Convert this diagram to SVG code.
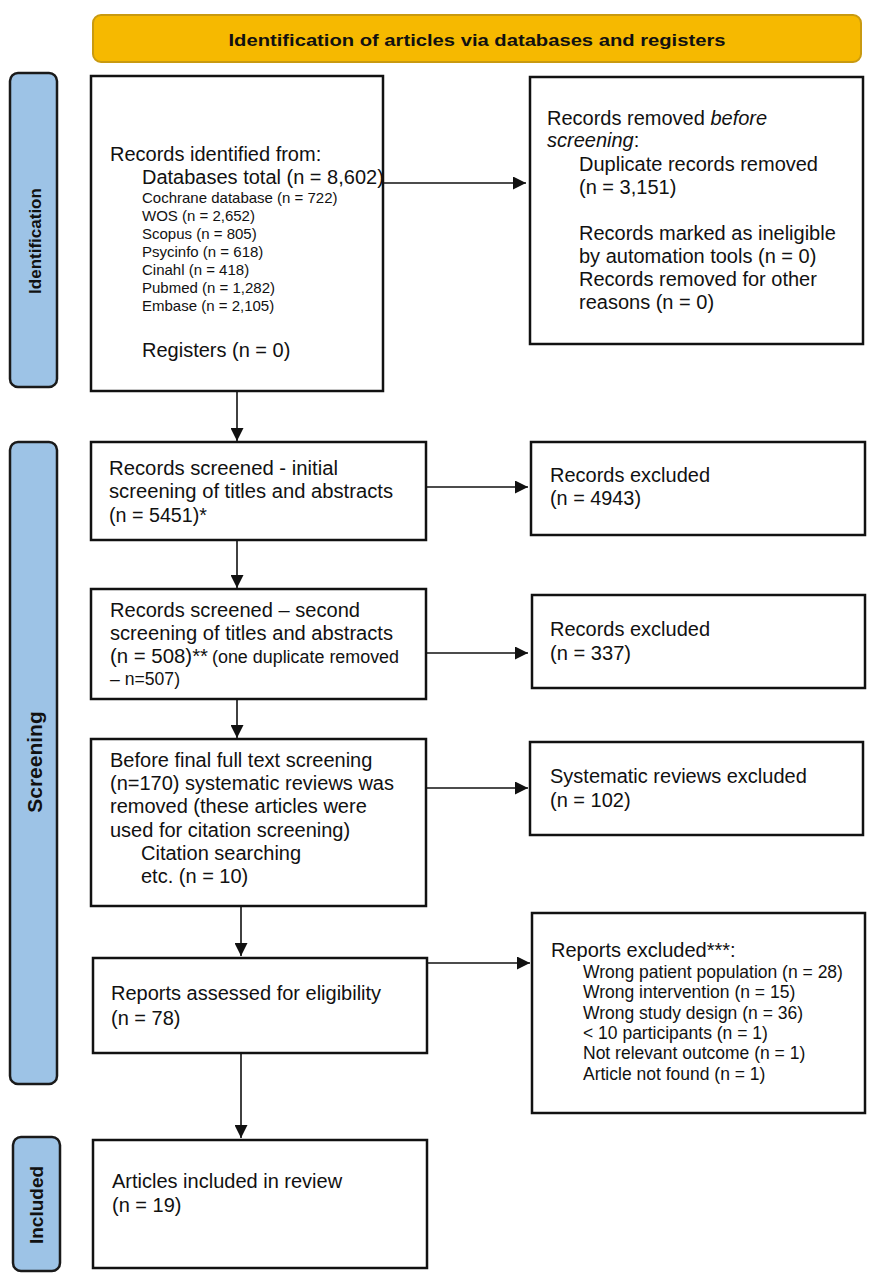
<svg xmlns="http://www.w3.org/2000/svg" width="874" height="1280" viewBox="0 0 874 1280">
<style>
.box{fill:#fff;stroke:#111;stroke-width:2.5}
.side{fill:#9dc3e6;stroke:#1a1a1a;stroke-width:2.5}
.t{font-family:"Liberation Sans",Arial,sans-serif;font-size:20px;fill:#111}
.n{font-family:"Liberation Sans",Arial,sans-serif;font-size:20px;fill:#111}
.s{font-family:"Liberation Sans",Arial,sans-serif;font-size:15px;fill:#111}
.m{font-family:"Liberation Sans",Arial,sans-serif;font-size:17.5px;fill:#111}
.lab{font-family:"Liberation Sans",Arial,sans-serif;font-weight:bold;fill:#111;text-anchor:middle}
.c{stroke:#111;stroke-width:1.6;fill:none}
</style>
<defs>
<marker id="ah2" viewBox="0 0 10 10" refX="10" refY="5" markerWidth="13" markerHeight="13" markerUnits="userSpaceOnUse" orient="auto">
<path d="M0,0 L10,5 L0,10 z" fill="#111"/>
</marker>
</defs>
<rect width="874" height="1280" fill="#fff"/>

<g id="header">
<rect x="93" y="15" width="768" height="47" rx="8" fill="#f6b900" stroke="#c99a10" stroke-width="2"/>
<text x="477" y="46" class="lab" font-size="17" textLength="497" lengthAdjust="spacingAndGlyphs">Identification of articles via databases and registers</text>
</g>

<g id="label-identification">
<rect class="side" x="10" y="73" width="47" height="314" rx="8"/>
<text class="lab" font-size="17" transform="translate(41,241) rotate(-90)">Identification</text>
</g>
<g id="label-screening">
<rect class="side" x="10" y="442" width="47" height="642" rx="8"/>
<text class="lab" font-size="21" transform="translate(42,762) rotate(-90)">Screening</text>
</g>
<g id="label-included">
<rect class="side" x="13" y="1137" width="47" height="134" rx="8"/>
<text class="lab" font-size="19" transform="translate(43,1205) rotate(-90)">Included</text>
</g>

<g id="connectors">
<line class="c" x1="383" y1="183" x2="526" y2="183" marker-end="url(#ah2)"/>
<line class="c" x1="237" y1="391" x2="237" y2="441" marker-end="url(#ah2)"/>
<line class="c" x1="426" y1="487" x2="528" y2="487" marker-end="url(#ah2)"/>
<line class="c" x1="237" y1="541" x2="237" y2="588" marker-end="url(#ah2)"/>
<line class="c" x1="426" y1="653" x2="528" y2="653" marker-end="url(#ah2)"/>
<line class="c" x1="237" y1="700" x2="237" y2="738" marker-end="url(#ah2)"/>
<line class="c" x1="426" y1="788" x2="528" y2="788" marker-end="url(#ah2)"/>
<line class="c" x1="241" y1="906" x2="241" y2="956" marker-end="url(#ah2)"/>
<line class="c" x1="428" y1="963" x2="530" y2="963" marker-end="url(#ah2)"/>
<line class="c" x1="241" y1="1054" x2="241" y2="1138" marker-end="url(#ah2)" stroke-width="2"/>
</g>

<g id="n-identified">
<rect class="box" x="91" y="76" width="292" height="315"/>
<text class="t" x="110" y="161">Records identified from:</text>
<text class="t" x="142" y="184">Databases total (n = 8,602)</text>
<text class="s" x="142" y="203">Cochrane database (n = 722)</text>
<text class="s" x="142" y="221">WOS (n = 2,652)</text>
<text class="s" x="142" y="239">Scopus (n = 805)</text>
<text class="s" x="142" y="257">Psycinfo (n = 618)</text>
<text class="s" x="142" y="275">Cinahl (n = 418)</text>
<text class="s" x="142" y="293">Pubmed (n = 1,282)</text>
<text class="s" x="142" y="311">Embase (n = 2,105)</text>
<text class="t" x="142" y="357">Registers (n = 0)</text>
</g>

<g id="n-removed">
<rect class="box" x="530" y="77" width="333" height="267"/>
<text class="t" x="547" y="125">Records removed <tspan font-style="italic">before</tspan></text>
<text class="t" x="547" y="147"><tspan font-style="italic">screening</tspan>:</text>
<text class="t" x="579" y="171">Duplicate records removed</text>
<text class="t" x="579" y="194">(n = 3,151)</text>
<text class="t" x="579" y="240">Records marked as ineligible</text>
<text class="t" x="579" y="263">by automation tools (n = 0)</text>
<text class="t" x="579" y="286">Records removed for other</text>
<text class="t" x="579" y="309">reasons (n = 0)</text>
</g>

<g id="n-screened1">
<rect class="box" x="91" y="442" width="335" height="98"/>
<text class="n" x="109" y="475" textLength="229" lengthAdjust="spacingAndGlyphs">Records screened - initial</text>
<text class="n" x="109" y="498" textLength="284" lengthAdjust="spacingAndGlyphs">screening of titles and abstracts</text>
<text class="n" x="109" y="522" textLength="98" lengthAdjust="spacingAndGlyphs">(n = 5451)*</text>
</g>

<g id="n-excluded1">
<rect class="box" x="531" y="442" width="334" height="93"/>
<text class="n" x="550" y="482" textLength="160" lengthAdjust="spacingAndGlyphs">Records excluded</text>
<text class="n" x="550" y="505" textLength="91" lengthAdjust="spacingAndGlyphs">(n = 4943)</text>
</g>

<g id="n-screened2">
<rect class="box" x="91" y="589" width="335" height="110"/>
<text class="n" x="110" y="617" textLength="250" lengthAdjust="spacingAndGlyphs">Records screened – second</text>
<text class="n" x="110" y="640" textLength="283" lengthAdjust="spacingAndGlyphs">screening of titles and abstracts</text>
<text class="n" x="110" y="663" textLength="98" lengthAdjust="spacingAndGlyphs">(n = 508)**</text>
<text class="m" x="212" y="663" font-size="16" textLength="187" lengthAdjust="spacingAndGlyphs">(one duplicate removed</text>
<text class="m" x="110" y="685" font-size="16" textLength="70" lengthAdjust="spacingAndGlyphs">– n=507)</text>
</g>

<g id="n-excluded2">
<rect class="box" x="532" y="595" width="333" height="93"/>
<text class="n" x="550" y="636" textLength="160" lengthAdjust="spacingAndGlyphs">Records excluded</text>
<text class="n" x="550" y="660" textLength="81" lengthAdjust="spacingAndGlyphs">(n = 337)</text>
</g>

<g id="n-before-final">
<rect class="box" x="91" y="739" width="335" height="167"/>
<text class="t" x="110" y="767">Before final full text screening</text>
<text class="t" x="110" y="790">(n=170) systematic reviews was</text>
<text class="t" x="110" y="813">removed (these articles were</text>
<text class="t" x="110" y="837">used for citation screening)</text>
<text class="t" x="141" y="860">Citation searching</text>
<text class="t" x="141" y="883">etc. (n = 10)</text>
</g>

<g id="n-sr-excluded">
<rect class="box" x="530" y="742" width="333" height="93"/>
<text class="t" x="550" y="783">Systematic reviews excluded</text>
<text class="t" x="550" y="807">(n = 102)</text>
</g>

<g id="n-assessed">
<rect class="box" x="93" y="958" width="334" height="95"/>
<text class="t" x="111" y="1000">Reports assessed for eligibility</text>
<text class="t" x="111" y="1025">(n = 78)</text>
</g>

<g id="n-reports-excluded">
<rect class="box" x="532" y="913" width="333" height="200"/>
<text class="t" x="551" y="957">Reports excluded***:</text>
<text class="m" x="583" y="978">Wrong patient population (n = 28)</text>
<text class="m" x="583" y="998">Wrong intervention (n = 15)</text>
<text class="m" x="583" y="1019">Wrong study design (n = 36)</text>
<text class="m" x="583" y="1039">&lt; 10 participants (n = 1)</text>
<text class="m" x="583" y="1059">Not relevant outcome (n = 1)</text>
<text class="m" x="583" y="1080">Article not found (n = 1)</text>
</g>

<g id="n-included">
<rect class="box" x="93" y="1140" width="334" height="128"/>
<text class="t" x="112" y="1188">Articles included in review</text>
<text class="t" x="112" y="1212">(n = 19)</text>
</g>
</svg>
